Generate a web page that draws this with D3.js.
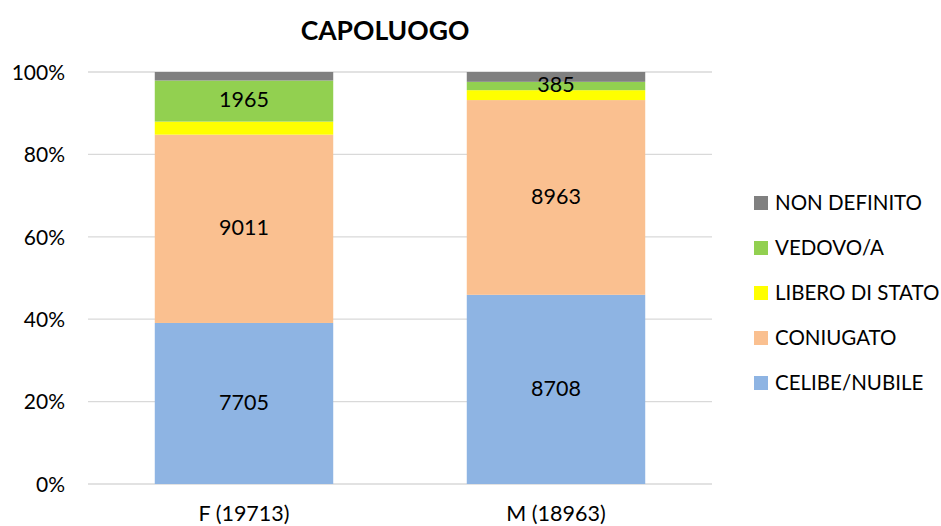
<!DOCTYPE html>
<html>
<head>
<meta charset="utf-8">
<style>
    body { margin: 0; background: #fff; }
    text { font-family: Lato, "Open Sans", sans-serif; fill: #000; }
</style>
</head>
<body>
    <svg id="chart" width="941" height="526"></svg>
</body>
<script src="https://d3js.org/d3.v7.min.js"></script>
<script>
    // data
    let categories = ["F (19713)", "M (18963)"];
    let seriesNames = ["CELIBE/NUBILE", "CONIUGATO", "LIBERO DI STATO", "VEDOVO/A", "NON DEFINITO"];
    let celibe = [7705, 8708];
    let coniugato = [9011, 8963];
    let libero = [625, 455];
    let vedovo = [1965, 385];
    let nonDefinito = [407, 452];
    let colors = ["#8eb4e3", "#fac090", "#ffff00", "#92d050", "#808080"];
    let showLabel = [true, true, false, true, false];
    let yTicks = [0, 0.2, 0.4, 0.6, 0.8, 1];

    let seriesValues = [celibe, coniugato, libero, vedovo, nonDefinito];
    let table = categories.map((cat, i) => {
        let row = { cat: cat };
        seriesNames.forEach((s, j) => row[s] = seriesValues[j][i]);
        return row;
    });

    let stacked = d3.stack()
        .keys(seriesNames)
        .offset(d3.stackOffsetExpand)(table);

    let svg = d3.select("#chart");

    let x = d3.scaleBand()
        .domain(categories)
        .range([88, 712])
        .paddingInner(0.428)
        .paddingOuter(0.214);
    let y = d3.scaleLinear()
        .domain([0, 1])
        .range([484, 72]);

    // gridlines
    svg.append("g").selectAll("line").data(yTicks)
        .enter()
        .append("line")
        .attr("x1", 88)
        .attr("x2", 712)
        .attr("y1", (d) => y(d))
        .attr("y2", (d) => y(d))
        .attr("stroke", "#d9d9d9")
        .attr("stroke-width", 1.3);

    let yAxis = d3.axisLeft(y)
        .tickValues(yTicks)
        .tickSize(0)
        .tickPadding(23)
        .tickFormat(d3.format(".0%"));
    svg.append("g")
        .attr("transform", "translate(88, 0)")
        .call(yAxis)
        .call((g) => g.select(".domain").remove())
        .selectAll("text")
        .style("font-size", "21px")
        .attr("dy", "0.35em");

    let xAxis = d3.axisBottom(x).tickSize(0).tickPadding(22);
    svg.append("g")
        .attr("transform", "translate(0, 484)")
        .call(xAxis)
        .call((g) => g.select(".domain").remove())
        .selectAll("text")
        .style("font-size", "21.5px");

    // bars
    let layers = svg.append("g").selectAll("g").data(stacked)
        .enter()
        .append("g")
        .attr("fill", (d, i) => colors[i]);
    layers.selectAll("rect").data((d) => d)
        .enter()
        .append("rect")
        .attr("x", (d) => x(d.data.cat))
        .attr("width", x.bandwidth())
        .attr("y", (d) => y(d[1]))
        .attr("height", (d) => y(d[0]) - y(d[1]));

    // value labels
    stacked.forEach((layer, i) => {
        if (!showLabel[i]) return;
        svg.append("g").selectAll("text").data(layer)
            .enter()
            .append("text")
            .attr("x", (d) => x(d.data.cat) + x.bandwidth() / 2)
            .attr("y", (d) => (y(d[0]) + y(d[1])) / 2)
            .attr("dy", "0.3em")
            .attr("text-anchor", "middle")
            .style("font-size", "21.5px")
            .text((d) => d.data[layer.key]);
    });

    // title
    svg.append("text")
        .attr("x", 385)
        .attr("y", 40)
        .attr("text-anchor", "middle")
        .style("font-size", "26.5px")
        .style("font-weight", "bold")
        .text("CAPOLUOGO");

    // legend, top entry is the last series
    let legendOrder = seriesNames.map((s, i) => i).reverse();
    let legend = svg.append("g").selectAll("g").data(legendOrder)
        .enter()
        .append("g")
        .attr("transform", (d, k) => "translate(754, " + (203 + k * 45) + ")");
    legend.append("rect")
        .attr("y", -7)
        .attr("width", 14)
        .attr("height", 14)
        .attr("fill", (d) => colors[d]);
    legend.append("text")
        .attr("x", 21)
        .attr("dy", "0.35em")
        .style("font-size", "20.5px")
        .text((d) => seriesNames[d]);
</script>
</html>
